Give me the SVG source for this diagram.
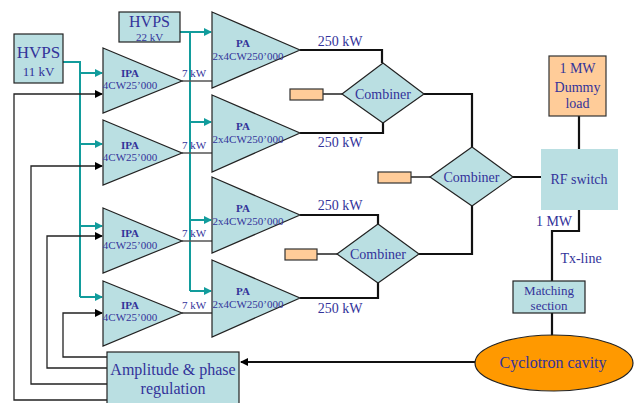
<svg xmlns="http://www.w3.org/2000/svg" width="634" height="403" viewBox="0 0 634 403">
<defs>
<style>
.blk{fill:#BADFE2;stroke:#222;stroke-width:1.2}
.load{fill:#FFCC99;stroke:#333;stroke-width:1.2}
.t{font-family:"Liberation Serif",serif;fill:#33339A;text-anchor:middle}
.tb{font-family:"Liberation Serif",serif;fill:#33339A;text-anchor:middle;font-weight:bold}
.teal{stroke:#129C9C;stroke-width:2;fill:none}
.pw{stroke:#111;stroke-width:2.2;fill:none}
.fb{stroke:#222;stroke-width:1.3;fill:none}
.gl{stroke:#555;stroke-width:1.5;fill:none}
</style>
<marker id="ta" markerWidth="8" markerHeight="8" refX="7" refY="4" orient="auto" markerUnits="userSpaceOnUse"><path d="M0,0 L8,4 L0,8 z" fill="#129C9C"/></marker>
<marker id="ka" markerWidth="8" markerHeight="8" refX="7" refY="4" orient="auto" markerUnits="userSpaceOnUse"><path d="M0,0 L8,4 L0,8 z" fill="#000"/></marker>
</defs>
<rect width="634" height="403" fill="#fff"/>
<g id="connectors">
<path class="teal" d="M63,62 H80 V297"/>
<path class="teal" d="M80,73 H102" marker-end="url(#ta)"/>
<path class="teal" d="M80,144 H102" marker-end="url(#ta)"/>
<path class="teal" d="M80,226 H102" marker-end="url(#ta)"/>
<path class="teal" d="M80,297 H102" marker-end="url(#ta)"/>
<path class="teal" d="M180,32 H190 V291"/>
<path class="teal" d="M190,32 H211" marker-end="url(#ta)"/>
<path class="teal" d="M190,122 H211" marker-end="url(#ta)"/>
<path class="teal" d="M190,220 H211" marker-end="url(#ta)"/>
<path class="teal" d="M190,291 H211" marker-end="url(#ta)"/>
<path class="gl" d="M182,81 H212 M182,153 H212 M182,241 H212"/>
<path class="fb" d="M182,313 H212"/>
<path class="pw" d="M300,50 H382 V63 M383,123 V133 H300"/>
<path class="pw" d="M300,215 H378 V224 M378,283 V298 H300"/>
<path class="pw" d="M424,94 H472 V147 M419,254 H472 V206 M513,177 H541"/>
<path class="pw" d="M579,116 V149 M579,210 V231 H552 V281 M552,313 V336"/>
<path class="fb" d="M323,94 H342 M411,177 H430 M317,254 H337"/>
<path class="pw" d="M475,362 H241" marker-end="url(#ka)"/>
<path class="fb" d="M107,357 H63 V313 H102" marker-end="url(#ka)"/>
<path class="fb" d="M107,368 H47 V236 H102" marker-end="url(#ka)"/>
<path class="fb" d="M107,384 H31 V166 H102" marker-end="url(#ka)"/>
<path class="fb" d="M107,400 H14 V94 H102" marker-end="url(#ka)"/>
</g>
<g id="hvps11"><rect class="blk" x="14" y="34" width="49" height="49"/><text class="t" x="38.5" y="58" font-size="17">HVPS</text><text class="t" x="38.5" y="76" font-size="13">11 kV</text></g>
<g id="hvps22"><rect class="blk" x="119" y="12" width="61" height="30"/><text class="t" x="149.5" y="27" font-size="16">HVPS</text><text class="t" x="149.5" y="41" font-size="11">22 kV</text></g>
<g id="ipa1"><path class="blk" d="M103,48 L182,81 L103,113 z"/><text class="tb" x="130" y="77" font-size="11">IPA</text><text class="t" x="130" y="89" font-size="11">4CW25’000</text><text class="t" x="194" y="77" font-size="11">7 kW</text></g>
<g id="ipa2"><path class="blk" d="M103,120 L182,153 L103,185 z"/><text class="tb" x="130" y="149" font-size="11">IPA</text><text class="t" x="130" y="161" font-size="11">4CW25’000</text><text class="t" x="194" y="149" font-size="11">7 kW</text></g>
<g id="ipa3"><path class="blk" d="M103,208 L182,241 L103,273 z"/><text class="tb" x="130" y="237" font-size="11">IPA</text><text class="t" x="130" y="249" font-size="11">4CW25’000</text><text class="t" x="194" y="237" font-size="11">7 kW</text></g>
<g id="ipa4"><path class="blk" d="M103,281 L182,313 L103,346 z"/><text class="tb" x="130" y="309" font-size="11">IPA</text><text class="t" x="130" y="321" font-size="11">4CW25’000</text><text class="t" x="194" y="309" font-size="11">7 kW</text></g>
<g id="pa1"><path class="blk" d="M212,12 L300,50 L212,88 z"/><text class="tb" x="243" y="47" font-size="11">PA</text><text class="t" x="248" y="60" font-size="11">2x4CW250’000</text></g>
<g id="pa2"><path class="blk" d="M212,95 L300,133 L212,172 z"/><text class="tb" x="243" y="130" font-size="11">PA</text><text class="t" x="248" y="143" font-size="11">2x4CW250’000</text></g>
<g id="pa3"><path class="blk" d="M212,177 L300,215 L212,253 z"/><text class="tb" x="243" y="212" font-size="11">PA</text><text class="t" x="248" y="225" font-size="11">2x4CW250’000</text></g>
<g id="pa4"><path class="blk" d="M212,260 L300,298 L212,337 z"/><text class="tb" x="243" y="295" font-size="11">PA</text><text class="t" x="248" y="308" font-size="11">2x4CW250’000</text></g>
<g id="labels250"><text class="t" x="340" y="46" font-size="14">250 kW</text><text class="t" x="340" y="147" font-size="14">250 kW</text><text class="t" x="340" y="210" font-size="14">250 kW</text><text class="t" x="340" y="313" font-size="14">250 kW</text></g>
<g id="load1"><rect class="load" x="290" y="89" width="33" height="11"/></g>
<g id="load2"><rect class="load" x="378" y="172" width="33" height="11"/></g>
<g id="load3"><rect class="load" x="285" y="249" width="32" height="11"/></g>
<g id="combiner1"><path class="blk" d="M342,94 L383,63 L424,94 L383,123 z"/><text class="t" x="383" y="99" font-size="14">Combiner</text></g>
<g id="combiner2"><path class="blk" d="M430,177 L472,147 L513,177 L472,206 z"/><text class="t" x="471.5" y="182" font-size="14">Combiner</text></g>
<g id="combiner3"><path class="blk" d="M337,254 L378,224 L419,254 L378,283 z"/><text class="t" x="378" y="259" font-size="14">Combiner</text></g>
<g id="rfswitch"><rect x="541" y="149" width="77" height="61" fill="#BADFE2"/><text class="t" x="579" y="184" font-size="14">RF switch</text></g>
<g id="dummyload"><rect class="load" x="549" y="56" width="57" height="60"/><text class="t" x="577.5" y="73" font-size="14">1 MW</text><text class="t" x="577.5" y="92" font-size="14">Dummy</text><text class="t" x="577.5" y="108" font-size="14">load</text></g>
<g id="txlabels"><text class="t" x="554" y="226" font-size="14">1 MW</text><text class="t" x="581" y="263" font-size="14">Tx-line</text></g>
<g id="matching"><rect class="blk" x="513" y="281" width="72" height="32"/><text class="t" x="549" y="295" font-size="13">Matching</text><text class="t" x="549" y="310" font-size="13">section</text></g>
<g id="cavity"><ellipse cx="554" cy="363" rx="79" ry="28" fill="#FF9900" stroke="#222" stroke-width="1.2"/><text class="t" x="553" y="368" font-size="16">Cyclotron cavity</text></g>
<g id="regulation"><rect class="blk" x="107" y="352" width="132" height="60"/><text class="t" x="173" y="375" font-size="16">Amplitude &amp; phase</text><text class="t" x="173" y="394" font-size="16">regulation</text></g>
</svg>
